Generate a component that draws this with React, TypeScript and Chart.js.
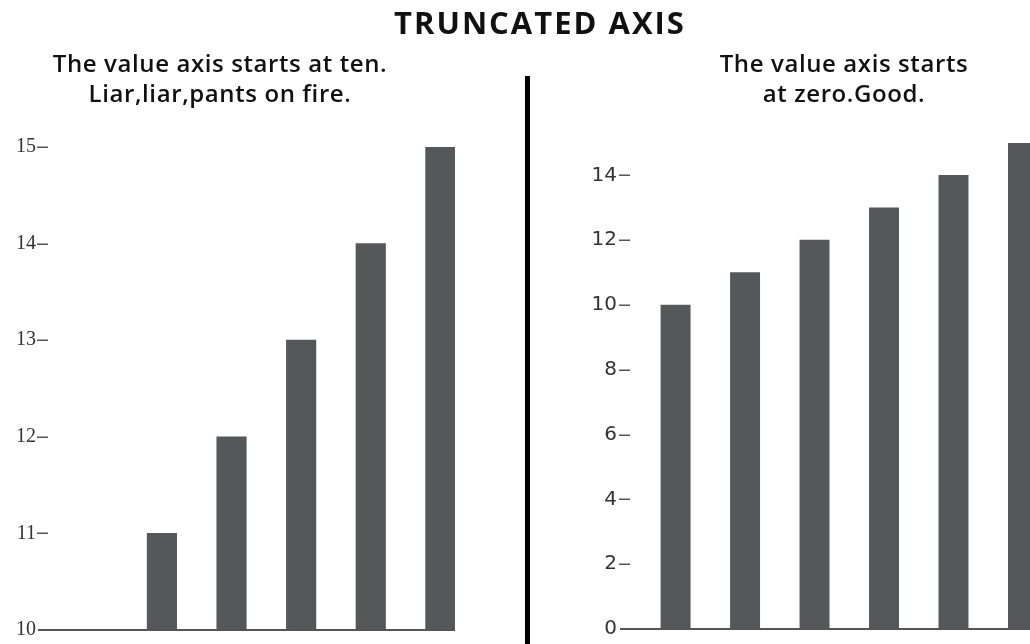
import React, { useEffect, useRef } from "react";
import { Chart, registerables } from "chart.js";

Chart.register(...registerables);

// ---- data ----
const categories = ["1", "2", "3", "4", "5", "6"];
const truncatedValues = [10, 11, 12, 13, 14, 15];
const zeroBasedValues = [10, 11, 12, 13, 14, 15];
const truncatedTicks = [10, 11, 12, 13, 14, 15];
const zeroBasedTicks = [0, 2, 4, 6, 8, 10, 12, 14];
const mainTitle = "TRUNCATED AXIS";
const leftSubtitle = ["The value axis starts at ten.", "Liar,liar,pants on fire."];
const rightSubtitle = ["The value axis starts", "at zero.Good."];

const BAR_COLOR = "#545859";
const AXIS_COLOR = "#555555";
const TEXT_FONT = "'Open Sans', 'DejaVu Sans', sans-serif";

const axisDecor = {
  id: "axisDecor",
  afterDatasetsDraw(chart: any) {
    const { ctx, chartArea, scales } = chart;
    const y = scales.y;
    ctx.save();
    ctx.strokeStyle = AXIS_COLOR;
    ctx.lineWidth = 2;
    ctx.beginPath();
    ctx.moveTo(chartArea.left, chartArea.bottom);
    ctx.lineTo(chartArea.right, chartArea.bottom);
    ctx.stroke();
    ctx.lineWidth = 1.5;
    y.ticks.forEach((t: any) => {
      if (t.value === y.min) return;
      const py = Math.round(y.getPixelForValue(t.value)) + 0.25;
      ctx.beginPath();
      ctx.moveTo(chartArea.left - 1, py);
      ctx.lineTo(chartArea.left + 10, py);
      ctx.stroke();
    });
    ctx.restore();
  },
};

function makeConfig(opts: {
  values: number[];
  ticks: number[];
  yMin: number;
  yMax: number;
  xMin: number;
  xMax: number;
  axisWidth: number;
  padTop: number;
  padRight: number;
  font: any;
  labelPad: number;
  barThickness: number;
}): any {
  return {
    type: "bar",
    data: {
      labels: categories,
      datasets: [
        {
          data: opts.values.map((v, i) => ({ x: i, y: v })),
          backgroundColor: BAR_COLOR,
          borderWidth: 0,
          barThickness: opts.barThickness,
        },
      ],
    },
    options: {
      animation: false,
      responsive: false,
      events: [],
      layout: { padding: { top: opts.padTop, right: opts.padRight, bottom: 10, left: 0 } },
      plugins: { legend: { display: false }, tooltip: { enabled: false }, title: { display: false } },
      scales: {
        x: {
          type: "linear",
          display: false,
          offset: false,
          grid: { offset: false },
          min: opts.xMin,
          max: opts.xMax,
        },
        y: {
          type: "linear",
          min: opts.yMin,
          max: opts.yMax,
          grid: { display: false, drawTicks: false, tickLength: 0 },
          border: { display: false },
          afterBuildTicks: (scale: any) => {
            scale.ticks = opts.ticks.map((v) => ({ value: v }));
          },
          afterFit: (scale: any) => {
            scale.width = opts.axisWidth;
          },
          ticks: { font: opts.font, color: "#333", padding: opts.labelPad },
        },
      },
    },
    plugins: [axisDecor],
  };
}

export default function App() {
  const leftRef = useRef<HTMLCanvasElement>(null);
  const rightRef = useRef<HTMLCanvasElement>(null);

  useEffect(() => {
    const left = new Chart(
      leftRef.current!,
      makeConfig({
        values: truncatedValues,
        ticks: truncatedTicks,
        yMin: 10,
        yMax: 15,
        xMin: -0.78,
        xMax: 5.21,
        axisWidth: 38,
        padTop: 147,
        padRight: 15,
        font: { family: "'Liberation Serif', 'DejaVu Serif', serif", size: 20 },
        labelPad: 2,
        barThickness: 29.5,
      })
    );
    const right = new Chart(
      rightRef.current!,
      makeConfig({
        values: zeroBasedValues,
        ticks: zeroBasedTicks,
        yMin: 0,
        yMax: 15,
        xMin: -0.8,
        xMax: 5.245,
        axisWidth: 90,
        padTop: 143,
        padRight: 0,
        font: { family: "'DejaVu Sans', sans-serif", size: 20 },
        labelPad: 3,
        barThickness: 29.3,
      })
    );
    return () => {
      left.destroy();
      right.destroy();
    };
  }, []);

  const sub = (lines: string[], center: number) => (
    <div
      style={{
        position: "absolute",
        left: center - 250,
        width: 500,
        top: 48,
        textAlign: "center",
        fontFamily: TEXT_FONT,
        fontWeight: 600,
        fontSize: 24,
        letterSpacing: "0.6px",
        lineHeight: "30px",
        color: "#111",
        zIndex: 2,
      }}
    >
      {lines.map((l, i) => (
        <div key={i}>{l}</div>
      ))}
    </div>
  );

  return (
    <div
      style={{
        position: "fixed",
        left: 0,
        top: 0,
        width: 1030,
        height: 644,
        overflow: "hidden",
        background: "#fff",
      }}
    >
      <div
        style={{
          position: "absolute",
          left: 290,
          width: 500,
          top: 7,
          textAlign: "center",
          fontFamily: TEXT_FONT,
          fontWeight: 700,
          fontSize: 31,
          letterSpacing: "2px",
          lineHeight: "31px",
          color: "#111",
          zIndex: 2,
        }}
      >
        {mainTitle}
      </div>
      {sub(leftSubtitle, 220)}
      {sub(rightSubtitle, 844)}
      <div
        style={{ position: "absolute", left: 525, top: 76, width: 5, height: 570, background: "#000" }}
      />
      <canvas
        ref={leftRef}
        width={470}
        height={644}
        style={{ position: "absolute", left: 0, top: 0, width: 470, height: 644 }}
      />
      <canvas
        ref={rightRef}
        width={510}
        height={644}
        style={{ position: "absolute", left: 530, top: 0, width: 510, height: 644 }}
      />
    </div>
  );
}
